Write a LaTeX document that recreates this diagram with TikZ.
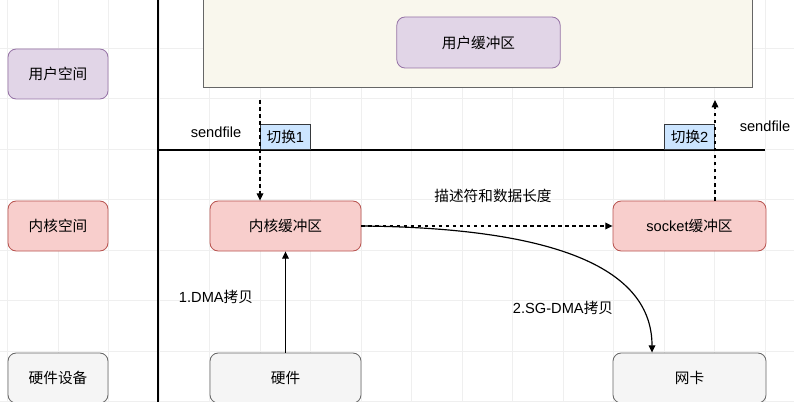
\documentclass[tikz,border=0pt]{standalone}
\usepackage{fontspec}
\setmainfont{Liberation Sans}
\newfontfamily\cjk{Noto Sans CJK SC}
\usepackage{xcolor}
\usetikzlibrary{arrows.meta,positioning}
\definecolor{upfill}{HTML}{E1D5E7}
\definecolor{upline}{HTML}{9673A6}
\definecolor{kfill}{HTML}{F8CECC}
\definecolor{kline}{HTML}{B85450}
\definecolor{hwfill}{HTML}{F5F5F5}
\definecolor{hwline}{HTML}{666666}
\definecolor{swfill}{HTML}{CCE5FF}
\definecolor{swline}{HTML}{36393D}
\definecolor{usrfill}{HTML}{F9F7ED}
\definecolor{gridc}{HTML}{EFEFEF}
\tikzset{
  vbase/.style={rounded corners=7pt,align=center,inner sep=2pt,line width=0.7pt},
  upbox/.style={vbase,draw=upline,fill=upfill},
  kbox/.style={vbase,draw=kline,fill=kfill},
  hwbox/.style={vbase,draw=hwline,fill=hwfill},
  swbox/.style={draw=swline,fill=swfill,line width=0.7pt,inner sep=0pt,minimum width=1.5cm,minimum height=0.75cm},
  varr/.style={-{Triangle[length=2.2mm,width=2mm]},line width=1pt,draw=black},
  vdash/.style={varr,dash pattern=on 3pt off 3pt},
  vline/.style={line width=1pt,draw=black}
}
\begin{document}
\begin{tikzpicture}[x=0.03cm,y=-0.03cm,font=\fontsize{12.5}{15}\selectfont]
  \clip (0,0) rectangle (794,402);
  \fill[white] (0,0) rectangle (794,402);
  % grid
  \foreach \gx in {7.5,58,...,794} \draw[gridc,line width=0.5pt] (\gx,0) -- (\gx,402);
  \foreach \gy in {-2.5,48,...,402} \draw[gridc,line width=0.5pt] (0,\gy) -- (794,\gy);
  % user space frame
  \node[draw=hwline,fill=usrfill,line width=0.8pt,minimum width=16.47cm,minimum height=3.3cm,inner sep=0pt] (usr) at (477.5,32) {};
  \draw[vline] (158,0) -- (158,402);
  \draw[vline] (158,150) -- (765,150);
  % left column
  \node[upbox,minimum width=3cm,minimum height=1.5cm] (uspace) at (58,74) {\cjk 用户空间};
  \node[kbox,minimum width=3cm,minimum height=1.5cm] (kspace) at (58,226) {\cjk 内核空间};
  \node[hwbox,minimum width=3cm,minimum height=1.5cm] (hspace) at (58,378) {\cjk 硬件设备};
  % buffers
  \node[upbox,minimum width=4.9cm,minimum height=1.53cm] (ubuf) at (478.5,42.5) {\cjk 用户缓冲区};
  \node[kbox,minimum width=4.53cm,minimum height=1.5cm] (kbuf) at (285.5,226) {\cjk 内核缓冲区};
  \node[kbox,minimum width=4.59cm,minimum height=1.5cm] (sbuf) at (689.5,226) {socket{\cjk 缓冲区}};
  \node[hwbox,minimum width=4.53cm,minimum height=1.5cm] (hw) at (285.5,378) {\cjk 硬件};
  \node[hwbox,minimum width=4.59cm,minimum height=1.5cm] (nic) at (689.5,378) {\cjk 网卡};
  % switches
  \node[swbox,anchor=south west] (sw1) at (260,150) {{\cjk 切换}1};
  \node[swbox,anchor=south east] (sw2) at (715,150) {{\cjk 切换}2};
  \node (sf1) at (216,132) {sendfile};
  \node (sf2) at (765,126) {sendfile};
  % connectors
  \coordinate (d1) at (260,100);
  \coordinate (d2) at (715,100);
  \draw[vdash] (d1) -- (kbuf.north -| d1);
  \draw[vdash] (sbuf.north -| d2) -- (d2);
  \draw[varr] (hw.north) -- (kbuf.south);
  \draw[vdash] (kbuf.east) -- (sbuf.west);
  \draw[varr] (kbuf.east) .. controls (560,228) and (652,270) .. (nic.north -| 652,0);
  \node (lbl1) at (216,297) {1.DMA{\cjk 拷贝}};
  \node (lbl2) at (563,308) {2.SG-DMA{\cjk 拷贝}};
  \node (lbl3) at (493,196) {\cjk 描述符和数据长度};
\end{tikzpicture}
\end{document}
